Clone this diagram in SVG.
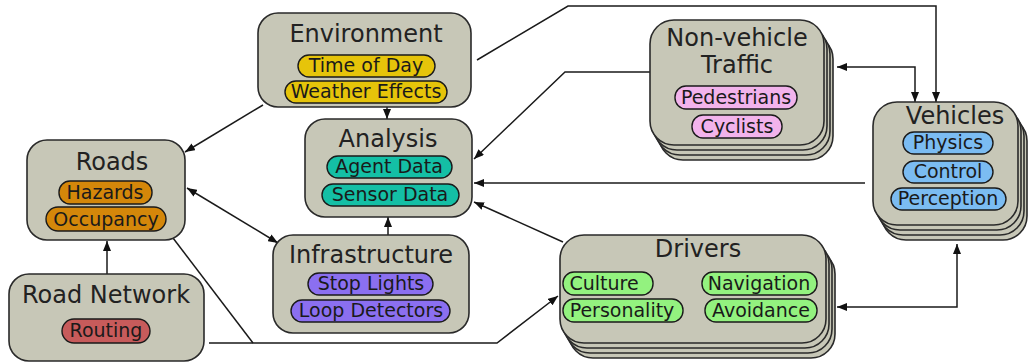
<svg xmlns="http://www.w3.org/2000/svg" width="1030" height="363" viewBox="0 0 1030 363">
  <defs>
    <marker id="arrow" viewBox="0 0 10 8" refX="10" refY="4" markerWidth="10" markerHeight="8" markerUnits="userSpaceOnUse" orient="auto-start-reverse">
      <path d="M0,0 L10,4 L0,8 Z" fill="#111"/>
    </marker>
    <style>
      .box { fill: #c7c7b7; stroke: #2a2a2a; stroke-width: 1.6; }
      .title { font-family: "DejaVu Sans", Verdana, sans-serif; font-size: 24px; fill: #222; text-anchor: middle; }
      .item { font-family: "DejaVu Sans", Verdana, sans-serif; font-size: 19px; fill: #1a1a1a; text-anchor: middle; }
      .pill { stroke: #1a1a1a; stroke-width: 1.4; }
      .yellow { fill: #e6c40a; }
      .orange { fill: #d4870a; }
      .teal { fill: #14bfa5; }
      .purple { fill: #8b6ff0; }
      .red { fill: #c75b5b; }
      .pink { fill: #f2b3ec; }
      .blue { fill: #7bbcf2; }
      .green { fill: #93f27f; }
      .link { fill: none; stroke: #1a1a1a; stroke-width: 1.5; }
    </style>
  </defs>
  <rect width="1030" height="363" fill="#ffffff"/>

  <!-- connectors -->
  <g id="connectors">
    <path class="link" d="M263,105 L185,152" marker-end="url(#arrow)"/>
    <path class="link" d="M387,107 L387,119" marker-end="url(#arrow)"/>
    <path class="link" d="M477,60 L568,6 L936,6 L936,102" marker-end="url(#arrow)"/>
    <path class="link" d="M837,67 L915,67 L915,102" marker-start="url(#arrow)" marker-end="url(#arrow)"/>
    <path class="link" d="M650,72 L565,72 L474,159" marker-end="url(#arrow)"/>
    <path class="link" d="M865,183 L474,183" marker-end="url(#arrow)"/>
    <path class="link" d="M563,242 L474,202" marker-end="url(#arrow)"/>
    <path class="link" d="M388,235 L388,217" marker-end="url(#arrow)"/>
    <path class="link" d="M187,188 L278,243" marker-start="url(#arrow)" marker-end="url(#arrow)"/>
    <path class="link" d="M107,274 L107,241" marker-end="url(#arrow)"/>
    <path class="link" d="M173,238 L253,343"/>
    <path class="link" d="M209,343 L497,343 L558,296" marker-end="url(#arrow)"/>
    <path class="link" d="M837,307 L957,307 L957,244" marker-start="url(#arrow)" marker-end="url(#arrow)"/>
  </g>

  <!-- Environment -->
  <g id="environment">
    <rect class="box" x="258" y="13" width="213" height="94" rx="20"/>
    <text class="title" x="366" y="42">Environment</text>
    <rect class="pill yellow" x="298" y="55" width="137" height="22" rx="11"/>
    <text class="item" x="366" y="72">Time of Day</text>
    <rect class="pill yellow" x="285" y="81" width="162" height="22" rx="11"/>
    <text class="item" x="366" y="98">Weather Effects</text>
  </g>

  <!-- Analysis -->
  <g id="analysis">
    <rect class="box" x="305" y="119" width="167" height="98" rx="20"/>
    <text class="title" x="388" y="147">Analysis</text>
    <rect class="pill teal" x="327" y="156" width="125" height="22" rx="11"/>
    <text class="item" x="389" y="173">Agent Data</text>
    <rect class="pill teal" x="322" y="184" width="137" height="22" rx="11"/>
    <text class="item" x="390" y="201">Sensor Data</text>
  </g>

  <!-- Roads -->
  <g id="roads">
    <rect class="box" x="27" y="140" width="158" height="100" rx="20"/>
    <text class="title" x="112" y="170">Roads</text>
    <rect class="pill orange" x="59" y="181" width="93" height="23" rx="11"/>
    <text class="item" x="105" y="199">Hazards</text>
    <rect class="pill orange" x="46" y="207" width="120" height="24" rx="12"/>
    <text class="item" x="106" y="226">Occupancy</text>
  </g>

  <!-- Road Network -->
  <g id="road-network">
    <rect class="box" x="9" y="274" width="195" height="87" rx="20"/>
    <text class="title" x="106" y="303">Road Network</text>
    <rect class="pill red" x="62" y="319" width="88" height="24" rx="12"/>
    <text class="item" x="106" y="337">Routing</text>
  </g>

  <!-- Infrastructure -->
  <g id="infrastructure">
    <rect class="box" x="273" y="235" width="196" height="98" rx="20"/>
    <text class="title" x="371" y="263">Infrastructure</text>
    <rect class="pill purple" x="308" y="273" width="125" height="22" rx="11"/>
    <text class="item" x="371" y="290">Stop Lights</text>
    <rect class="pill purple" x="291" y="300" width="159" height="22" rx="11"/>
    <text class="item" x="371" y="317">Loop Detectors</text>
  </g>

  <!-- Non-vehicle Traffic (stacked) -->
  <g id="non-vehicle-traffic">
    <rect class="box" x="659" y="35" width="174" height="125" rx="24"/>
    <rect class="box" x="656" y="30" width="174" height="125" rx="24"/>
    <rect class="box" x="653" y="25" width="174" height="125" rx="24"/>
    <rect class="box" x="650" y="20" width="174" height="125" rx="24"/>
    <text class="title" x="737" y="46">Non-vehicle</text>
    <text class="title" x="737" y="73">Traffic</text>
    <rect class="pill pink" x="675" y="86" width="122" height="23" rx="11"/>
    <text class="item" x="736" y="104">Pedestrians</text>
    <rect class="pill pink" x="692" y="115" width="90" height="23" rx="11"/>
    <text class="item" x="737" y="133">Cyclists</text>
  </g>

  <!-- Vehicles (stacked) -->
  <g id="vehicles">
    <rect class="box" x="882" y="117" width="145" height="123" rx="24"/>
    <rect class="box" x="879" y="112" width="145" height="123" rx="24"/>
    <rect class="box" x="876" y="107" width="145" height="123" rx="24"/>
    <rect class="box" x="873" y="102" width="145" height="123" rx="24"/>
    <text class="title" x="955" y="124">Vehicles</text>
    <rect class="pill blue" x="903" y="132" width="90" height="22" rx="11"/>
    <text class="item" x="948" y="149">Physics</text>
    <rect class="pill blue" x="903" y="161" width="90" height="22" rx="11"/>
    <text class="item" x="948" y="178">Control</text>
    <rect class="pill blue" x="891" y="188" width="115" height="22" rx="11"/>
    <text class="item" x="948" y="205">Perception</text>
  </g>

  <!-- Drivers (stacked) -->
  <g id="drivers">
    <rect class="box" x="569" y="250" width="266" height="108" rx="24"/>
    <rect class="box" x="566" y="245" width="266" height="108" rx="24"/>
    <rect class="box" x="563" y="240" width="266" height="108" rx="24"/>
    <rect class="box" x="560" y="235" width="266" height="108" rx="24"/>
    <text class="title" x="698" y="257">Drivers</text>
    <rect class="pill green" x="563" y="272" width="90" height="23" rx="11"/>
    <text class="item" x="604" y="290">Culture</text>
    <rect class="pill green" x="563" y="299" width="120" height="23" rx="11"/>
    <text class="item" x="622" y="317">Personality</text>
    <rect class="pill green" x="702" y="272" width="115" height="23" rx="11"/>
    <text class="item" x="759" y="290">Navigation</text>
    <rect class="pill green" x="705" y="299" width="112" height="23" rx="11"/>
    <text class="item" x="761" y="317">Avoidance</text>
  </g>
</svg>
